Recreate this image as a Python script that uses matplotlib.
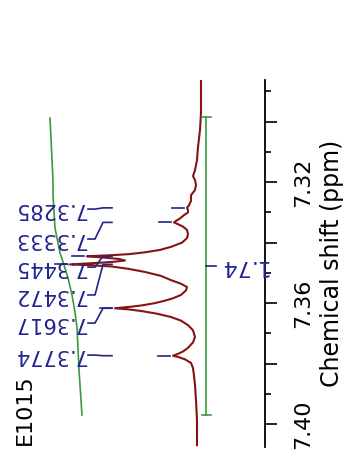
import matplotlib
matplotlib.use("Agg")
import matplotlib.pyplot as plt

# spectrum trace (ppm, intensity)
shift = [7.2862, 7.2928, 7.2971, 7.3027, 7.3084, 7.3127, 7.3160, 7.3180, 7.3193, 7.3209,
         7.3226, 7.3243, 7.3262, 7.3276, 7.3285, 7.3292, 7.3300, 7.3309, 7.3320, 7.3328,
         7.3333, 7.3339, 7.3347, 7.3358, 7.3372, 7.3385, 7.3400, 7.3414, 7.3424, 7.3432,
         7.3438, 7.3442, 7.3445, 7.3449, 7.3454, 7.3459, 7.3464, 7.3468, 7.3472, 7.3475,
         7.3479, 7.3487, 7.3497, 7.3510, 7.3524, 7.3536, 7.3547, 7.3558, 7.3573, 7.3584,
         7.3592, 7.3600, 7.3607, 7.3612, 7.3617, 7.3621, 7.3626, 7.3635, 7.3646, 7.3658,
         7.3673, 7.3690, 7.3712, 7.3730, 7.3748, 7.3760, 7.3768, 7.3774, 7.3779, 7.3786,
         7.3798, 7.3815, 7.3840, 7.3871, 7.3921, 7.3987, 7.4070]
intensity = [-4, -4, -4, -3, -1, 0, 2, 4, 2, 1,
             2, 6, 6, 8, 10, 9, 9, 13, 17, 21,
             23, 19, 14, 10, 9, 10, 15, 26, 37, 52,
             68, 88, 110, 95, 78, 72, 85, 105, 127, 105,
             85, 68, 52, 36, 26, 16, 10, 11, 16, 24,
             32, 42, 54, 66, 82, 68, 56, 40, 26, 16,
             9, 4, 2, 4, 9, 14, 19, 24, 18, 12,
             6, 4, 3, 2, 1, 0, 0]

# integral curve
int_shift = [7.2988, 7.3193, 7.3242, 7.3352, 7.3434, 7.3474, 7.3517, 7.3573, 7.3630, 7.3682, 7.3821, 7.3970]
int_value = [147, 144, 144, 142, 137, 133, 129, 125, 122, 120, 118, 115]
int_range = [7.2985, 7.3970]
int_label = "1.74"

# peak picking
peaks = [7.3285, 7.3333, 7.3445, 7.3472, 7.3617, 7.3774]
peak_height = [10, 23, 110, 127, 82, 24]
peak_text = ["7.3285", "7.3333", "7.3445", "7.3472", "7.3617", "7.3774"]

major_ticks = [7.30, 7.32, 7.34, 7.36, 7.38, 7.40]
major_labels = ["", "7.32", "", "7.36", "", "7.40"]
minor_ticks = [7.29, 7.31, 7.33, 7.35, 7.37, 7.39]

# where the peak labels sit (spread out)
label_pos = [7.3289, 7.3388, 7.3481, 7.3573, 7.3666, 7.3772]

blue = "#1f248f"
red = "#861414"
green = "#3c9a3c"

fig = plt.figure(figsize=(3.61, 4.62), dpi=100)
ax = fig.add_axes([0, 1 - 447 / 462, 265 / 361, 367 / 462])

ax.plot(intensity, shift, color=red, lw=1.5)
ax.plot(int_value, int_shift, color=green, lw=1.2)

# integral bracket
ax.plot([-9, -9], int_range, color=green, lw=1.2)
for s in int_range:
    ax.plot([-5, -14], [s, s], color=green, lw=1.2)
mid = (int_range[0] + int_range[1]) / 2
ax.plot([-9, -19], [mid, mid], color=blue, lw=1.2)
ax.text(-46, mid, int_label, rotation=180, color=blue, fontsize=16,
        ha="center", va="center")

# peak labels with leader lines
for p, h, t, lp in zip(peaks, peak_height, peak_text, label_pos):
    ax.plot([109, 102, 94, 85], [lp, lp, p, p], color=blue, lw=1.2)
    ax.plot([h + 3, h + 15], [p, p], color=blue, lw=1.2)
    ax.text(111, lp, t, rotation=180, color=blue, fontsize=15,
            ha="right", va="center")

ax.text(172, 7.3952, "E1015", rotation=90, fontsize=16, ha="center", va="center")

ax.set_xlim(197, -68)
ax.set_ylim(7.4076, 7.2862)

for side in ["left", "top", "bottom"]:
    ax.spines[side].set_visible(False)
ax.spines["right"].set_linewidth(1.3)
ax.set_xticks([])
ax.yaxis.tick_right()
ax.yaxis.set_label_position("right")
ax.set_yticks(major_ticks)
ax.set_yticklabels(major_labels, rotation=90, va="center", fontsize=16)
ax.set_yticks(minor_ticks, minor=True)
ax.tick_params(axis="y", which="major", length=8.5, width=1.2, pad=12)
ax.tick_params(axis="y", which="minor", length=4, width=1.2)
ax.set_ylabel("Chemical shift (ppm)", fontsize=17, labelpad=5)
ax.patch.set_alpha(0)

fig.savefig("out.png", dpi=100)
